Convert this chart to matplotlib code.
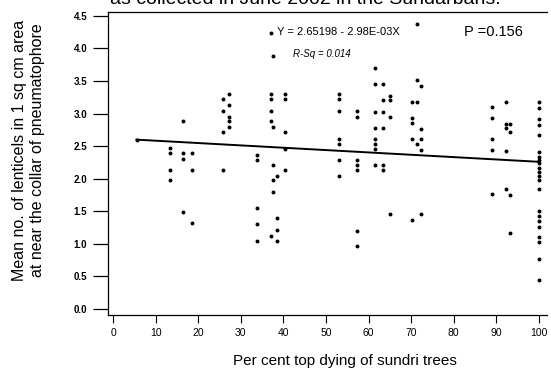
import matplotlib
matplotlib.use("Agg")
import matplotlib.pyplot as plt
import numpy as np

plt.rcParams['font.family'] = ['Liberation Sans', 'DejaVu Sans']

# Data: columns of points (x = per cent top dying, y = mean lenticels)
col_x = [5.5, 13.4, 16.5, 18.5, 25.8, 27.3, 33.8, 37.1, 37.6, 38.5, 40.3,
         53.1, 57.2, 61.5, 63.4, 65.0, 70.2, 71.4, 72.3, 89.0, 92.3, 93.2, 100.0]
col_y = [
    [2.60],
    [2.47, 2.40, 2.14, 1.98],
    [2.88, 2.40, 2.30, 1.49],
    [2.40, 2.14, 1.32],
    [3.22, 3.04, 2.72, 2.14],
    [3.30, 3.13, 2.95, 2.88, 2.80],
    [2.37, 2.29, 1.55, 1.31, 1.04],
    [4.24, 3.30, 3.22, 3.04, 2.88, 1.12],
    [3.89, 2.79, 2.21, 1.98, 1.79],
    [2.04, 1.40, 1.22, 1.04],
    [3.30, 3.22, 2.71, 2.45, 2.14],
    [3.30, 3.22, 3.04, 2.61, 2.53, 2.29, 2.04],
    [3.04, 2.95, 2.29, 2.21, 2.14, 1.20, 0.97],
    [3.70, 3.45, 3.03, 2.78, 2.61, 2.53, 2.45, 2.21],
    [3.45, 3.21, 3.03, 2.78, 2.21, 2.14],
    [3.27, 3.21, 2.95, 1.46],
    [3.18, 2.93, 2.85, 2.61, 1.37],
    [4.38, 3.52, 3.18, 2.53],
    [3.42, 2.76, 2.61, 2.44, 1.46],
    [3.10, 2.93, 2.61, 2.44, 1.77],
    [3.18, 2.84, 2.78, 2.43, 1.84],
    [2.84, 2.72, 1.75, 1.17],
    [3.18, 3.09, 2.92, 2.83, 2.67, 2.41, 2.33, 2.29, 2.24, 2.17, 2.11,
     2.04, 1.98, 1.84, 1.51, 1.43, 1.35, 1.26, 1.11, 1.03, 0.77, 0.45],
]
fit_intercept = 2.62
fit_slope = -0.0036
fit_range = [5.5, 100.0]

x_ticks = [0, 10, 20, 30, 40, 50, 60, 70, 80, 90, 100]
y_ticks = [0.0, 0.5, 1.0, 1.5, 2.0, 2.5, 3.0, 3.5, 4.0, 4.5]

xs = np.concatenate([[cx] * len(cy) for cx, cy in zip(col_x, col_y)])
ys = np.concatenate([np.array(cy) for cy in col_y])

fig = plt.figure(figsize=(5.51, 3.75), dpi=100)
ax = fig.add_axes([108 / 551, 60 / 375, 439 / 551, 303 / 375])

ax.scatter(xs, ys, s=8, c='black', marker='o', linewidths=0, zorder=3)
fx = np.array(fit_range)
ax.plot(fx, fit_intercept + fit_slope * fx, color='black', lw=1.4, zorder=2)

ax.set_xlim(-1.2, 101.9)
ax.set_ylim(-0.092, 4.56)
ax.set_xticks(x_ticks)
ax.set_yticks(y_ticks)
ax.set_xticklabels([str(t) for t in x_ticks], fontsize=7.5)
ax.set_yticklabels([f"{t:.1f}" for t in y_ticks], fontsize=7, fontweight='bold')
ax.tick_params(axis='y', direction='out', length=11, width=0.9, pad=4)
ax.tick_params(axis='x', direction='out', length=6, width=0.8, pad=3)

for s in ['left', 'bottom', 'top']:
    ax.spines[s].set_linewidth(0.9)
ax.spines['right'].set_visible(False)

fig.text(345 / 551, 1 - 361 / 375, "Per cent top dying of sundri trees",
         ha='center', va='center', fontsize=11)
fig.text(20 / 551, 1 - 150 / 375, "Mean no. of lenticels in 1 sq cm area",
         rotation=90, ha='center', va='center', fontsize=11.5)
fig.text(38 / 551, 1 - 150 / 375, "at near the collar of pneumatophore",
         rotation=90, ha='center', va='center', fontsize=11.5)

ax.text(0.385, 0.935, "Y = 2.65198 - 2.98E-03X", transform=ax.transAxes,
        fontsize=8, ha='left', va='center')
ax.text(0.422, 0.86, "R-Sq = 0.014", transform=ax.transAxes,
        fontsize=7, ha='left', va='center', style='italic')
ax.text(0.812, 0.935, "P =0.156", transform=ax.transAxes,
        fontsize=10.5, ha='left', va='center')

fig.text(305 / 551, 1 - 4 / 375, "as collected in June 2002 in the Sundarbans.",
         ha='center', va='baseline', fontsize=14)

fig.savefig("out.png", dpi=100)
